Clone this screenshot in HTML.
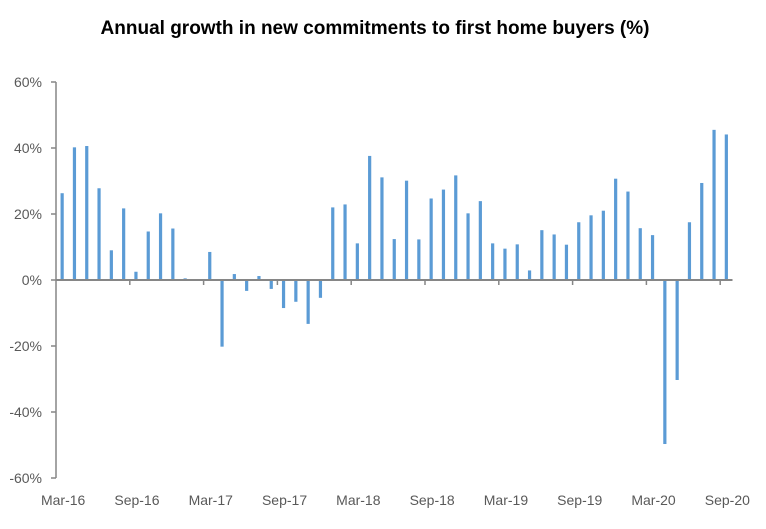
<!DOCTYPE html>
<html><head><meta charset="utf-8"><style>
body{margin:0;background:#fff;width:766px;height:524px;overflow:hidden;font-family:"Liberation Sans",sans-serif}
</style></head><body>
<svg width="766" height="524">
<text x="375" y="34" text-anchor="middle" font-size="19" font-weight="bold" fill="#000">Annual growth in new commitments to first home buyers (%)</text>
<g id="y"></g><g id="bars"></g><g id="x"></g>
</svg>
<script>
const categories=[];
const months=["Mar","Apr","May","Jun","Jul","Aug","Sep","Oct","Nov","Dec","Jan","Feb"];
const tickLabels=["Mar-16","Sep-16","Mar-17","Sep-17","Mar-18","Sep-18","Mar-19","Sep-19","Mar-20","Sep-20"];
const yTicks=[60,40,20,0,-20,-40,-60];
const values=[26.3,40.2,40.6,27.8,9,21.7,2.5,14.7,20.2,15.6,0.5,0,8.5,-20.2,1.8,-3.3,1.2,-2.7,-8.5,-6.6,-13.3,-5.4,22,22.9,11.1,37.6,31.1,12.4,30.1,12.3,24.7,27.4,31.7,20.2,23.9,11.1,9.5,10.8,2.9,15.1,13.8,10.7,17.5,19.6,21,30.7,26.8,15.7,13.6,-49.7,-30.3,17.5,29.4,45.5,44.1];
const NS="http://www.w3.org/2000/svg";
const x0=56,x1=732.5,yTop=82,yBot=478,vMax=60,vMin=-60;
const n=values.length,cw=(x1-x0)/n;
const yS=v=>yTop+(vMax-v)/(vMax-vMin)*(yBot-yTop);
const xS=i=>x0+(i+0.5)*cw;
function mk(t,a,p){const e=document.createElementNS(NS,t);for(const k in a)e.setAttribute(k,a[k]);p.appendChild(e);return e;}
const gy=document.getElementById('y'),gb=document.getElementById('bars'),gx=document.getElementById('x');
let l=mk('line',{x1:x0,x2:x0,y1:yTop,y2:yBot,stroke:'#868686','stroke-width':1.5},gy);


yTicks.forEach(v=>{
 const y=yS(v);
 const t=mk('line',{x1:x0-5,x2:x0,y1:y,y2:y,stroke:'#868686','stroke-width':1.5},gy);
 
 
 const tx=mk('text',{x:42,y:y+5,'text-anchor':'end','font-size':14,fill:'#595959'},gy);
 tx.textContent=v+'%';
 
 
});
values.forEach((v,i)=>{
 const y0=yS(0),y=yS(v);
 const r=mk('rect',{x:xS(i)-1.6,y:Math.min(y,y0),width:3.2,height:Math.abs(y-y0),fill:'#5b9bd5'},gb);
 
 
});
l=mk('line',{x1:x0,x2:x1,y1:yS(0),y2:yS(0),stroke:'#868686','stroke-width':2},gx);


for(let k=1;k*6<=n;k++){
 const x=x0+k*6*cw;
 const t=mk('line',{x1:x,x2:x,y1:yS(0),y2:yS(0)+5,stroke:'#868686','stroke-width':1.5},gx);
 
 
}
tickLabels.forEach((s,k)=>{
 const t=mk('text',{x:xS(k*6)+1,y:505,'text-anchor':'middle','font-size':14,fill:'#595959'},gx);
 t.textContent=s;
 
 
});
</script>
</body></html>
